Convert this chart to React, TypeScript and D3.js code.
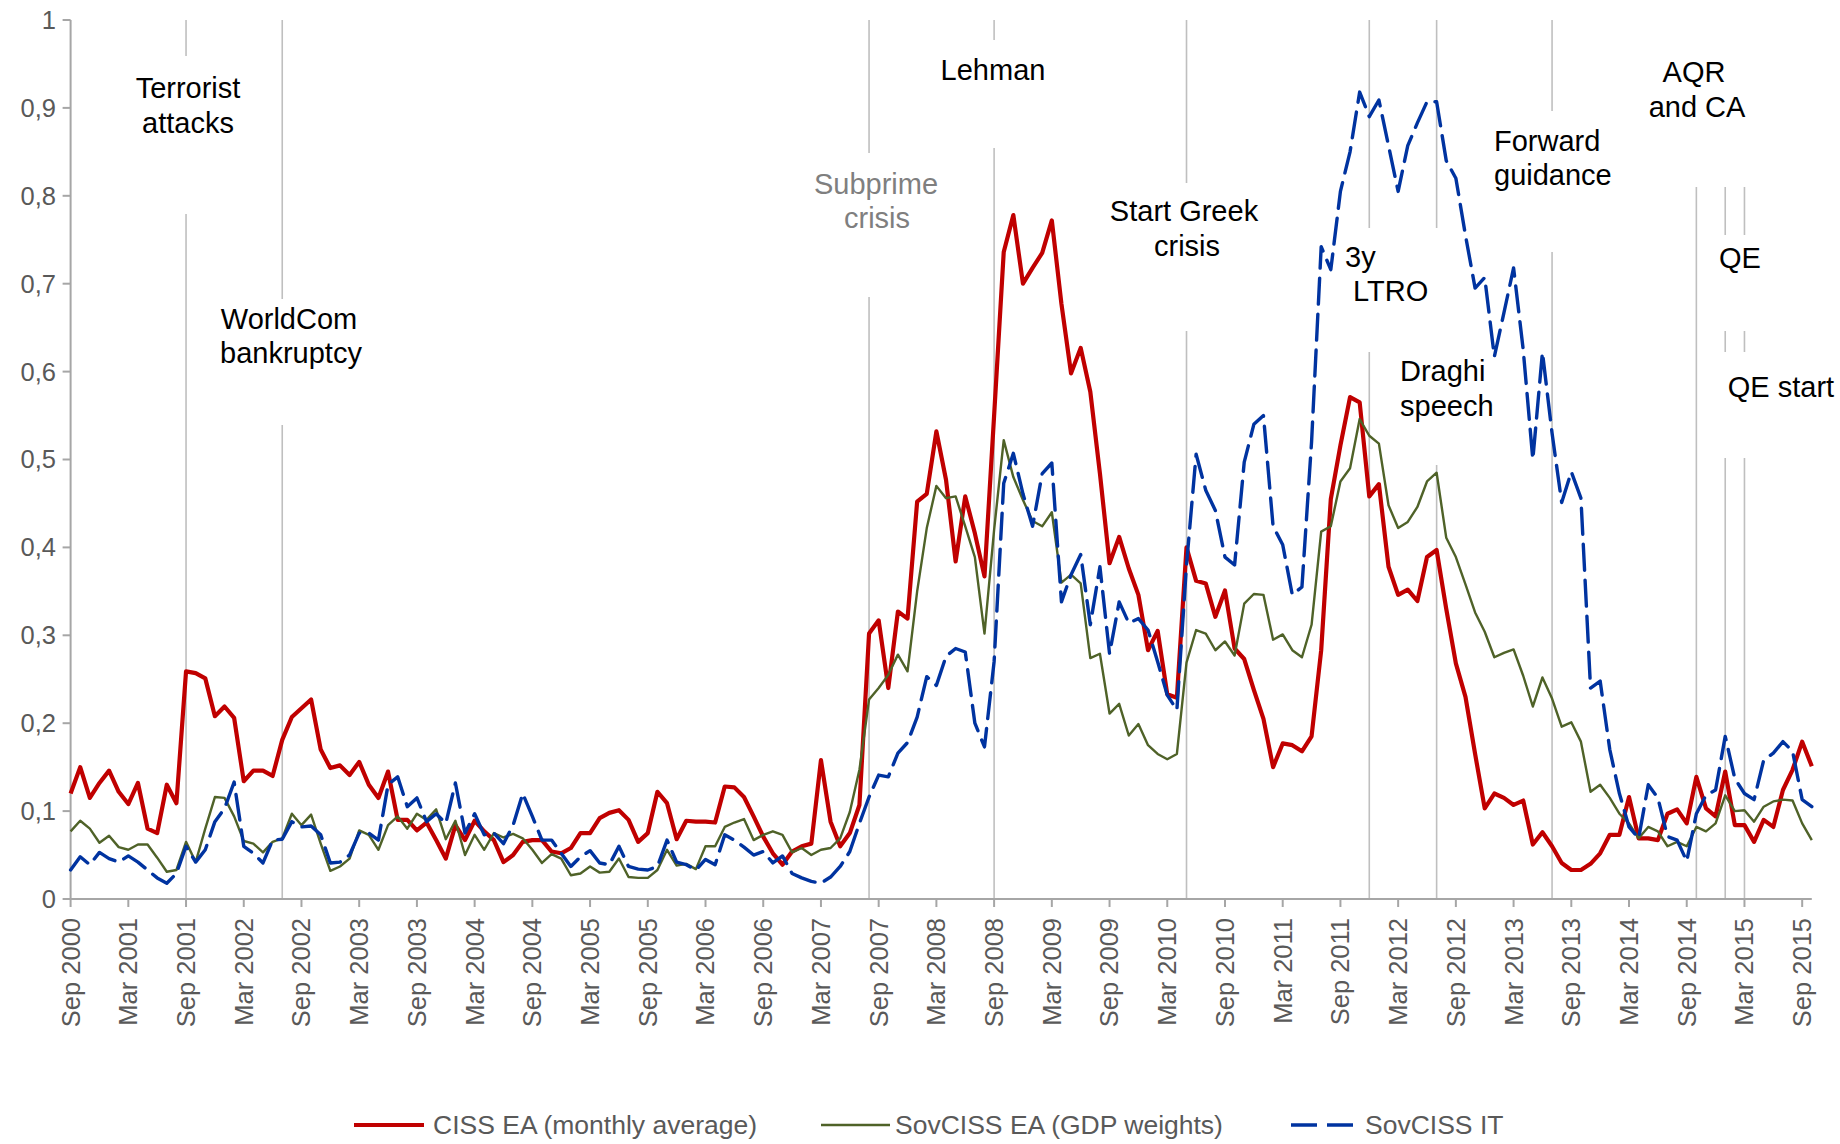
import { useEffect } from 'react';
import * as d3 from 'd3';

const tickLabels = [
  'Sep 2000', 'Mar 2001', 'Sep 2001', 'Mar 2002', 'Sep 2002', 'Mar 2003', 'Sep 2003', 'Mar 2004',
  'Sep 2004', 'Mar 2005', 'Sep 2005', 'Mar 2006', 'Sep 2006', 'Mar 2007', 'Sep 2007', 'Mar 2008',
  'Sep 2008', 'Mar 2009', 'Sep 2009', 'Mar 2010', 'Sep 2010', 'Mar 2011', 'Sep 2011', 'Mar 2012',
  'Sep 2012', 'Mar 2013', 'Sep 2013', 'Mar 2014', 'Sep 2014', 'Mar 2015', 'Sep 2015',
];

const yTicks = [0, 0.1, 0.2, 0.3, 0.4, 0.5, 0.6, 0.7, 0.8, 0.9, 1];
const yTickLabels = ['0', '0,1', '0,2', '0,3', '0,4', '0,5', '0,6', '0,7', '0,8', '0,9', '1'];

// monthly values, Sep 2000 .. Oct 2015
const cissEA = [
  0.120, 0.150, 0.115, 0.132, 0.146, 0.122, 0.108, 0.132, 0.080, 0.075, 0.130, 0.109,
  0.259, 0.257, 0.251, 0.208, 0.219, 0.206, 0.134, 0.146, 0.146, 0.140, 0.181, 0.207,
  0.217, 0.227, 0.170, 0.149, 0.152, 0.141, 0.156, 0.130, 0.115, 0.145, 0.090, 0.090,
  0.078, 0.087, 0.067, 0.046, 0.084, 0.067, 0.089, 0.077, 0.067, 0.042, 0.050, 0.065,
  0.067, 0.067, 0.054, 0.052, 0.058, 0.075, 0.075, 0.092, 0.098, 0.101, 0.090, 0.065,
  0.075, 0.122, 0.109, 0.068, 0.089, 0.088, 0.088, 0.087, 0.128, 0.127, 0.116, 0.094,
  0.071, 0.052, 0.039, 0.054, 0.060, 0.063, 0.158, 0.088, 0.060, 0.075, 0.107, 0.302,
  0.317, 0.240, 0.327, 0.319, 0.452, 0.461, 0.532, 0.477, 0.384, 0.458, 0.416, 0.367,
  0.550, 0.736, 0.778, 0.700, 0.718, 0.735, 0.772, 0.677, 0.598, 0.627, 0.577, 0.484,
  0.382, 0.412, 0.376, 0.346, 0.283, 0.305, 0.233, 0.229, 0.400, 0.362, 0.359, 0.321,
  0.351, 0.285, 0.273, 0.238, 0.205, 0.150, 0.177, 0.175, 0.168, 0.185, 0.283, 0.455,
  0.516, 0.571, 0.565, 0.458, 0.472, 0.378, 0.346, 0.352, 0.339, 0.389, 0.397, 0.330,
  0.268, 0.230, 0.165, 0.103, 0.120, 0.115, 0.107, 0.112, 0.062, 0.076, 0.060, 0.041,
  0.033, 0.033, 0.040, 0.052, 0.073, 0.073, 0.116, 0.069, 0.069, 0.067, 0.097, 0.102,
  0.086, 0.139, 0.103, 0.094, 0.145, 0.084, 0.084, 0.065, 0.090, 0.082, 0.124, 0.147,
  0.179, 0.151,
];

const sovCissEA = [
  0.077, 0.089, 0.080, 0.064, 0.072, 0.059, 0.056, 0.062, 0.062, 0.047, 0.031, 0.033,
  0.065, 0.042, 0.080, 0.116, 0.115, 0.094, 0.066, 0.063, 0.053, 0.065, 0.069, 0.097,
  0.084, 0.096, 0.063, 0.032, 0.037, 0.046, 0.078, 0.073, 0.056, 0.084, 0.094, 0.080,
  0.097, 0.090, 0.102, 0.068, 0.089, 0.050, 0.073, 0.056, 0.075, 0.070, 0.074, 0.069,
  0.056, 0.041, 0.051, 0.046, 0.027, 0.029, 0.037, 0.030, 0.031, 0.046, 0.025, 0.024,
  0.024, 0.033, 0.056, 0.038, 0.040, 0.034, 0.060, 0.060, 0.082, 0.087, 0.091, 0.067,
  0.073, 0.077, 0.073, 0.053, 0.058, 0.050, 0.056, 0.058, 0.069, 0.099, 0.147, 0.227,
  0.240, 0.255, 0.278, 0.259, 0.350, 0.422, 0.470, 0.456, 0.458, 0.424, 0.389, 0.302,
  0.420, 0.522, 0.480, 0.454, 0.430, 0.424, 0.440, 0.360, 0.369, 0.359, 0.274, 0.279,
  0.211, 0.222, 0.186, 0.199, 0.175, 0.165, 0.159, 0.165, 0.269, 0.306, 0.302, 0.283,
  0.293, 0.277, 0.336, 0.347, 0.346, 0.295, 0.301, 0.283, 0.275, 0.312, 0.418, 0.424,
  0.475, 0.490, 0.546, 0.527, 0.518, 0.448, 0.422, 0.429, 0.446, 0.475, 0.485, 0.411,
  0.389, 0.358, 0.326, 0.304, 0.275, 0.280, 0.284, 0.254, 0.219, 0.252, 0.228, 0.196,
  0.201, 0.179, 0.122, 0.130, 0.115, 0.097, 0.086, 0.069, 0.082, 0.077, 0.060, 0.065,
  0.060, 0.082, 0.077, 0.086, 0.118, 0.100, 0.101, 0.088, 0.105, 0.111, 0.113, 0.112,
  0.086, 0.067,
];

const sovCissIT = [
  0.033, 0.048, 0.039, 0.053, 0.046, 0.042, 0.049, 0.042, 0.033, 0.024, 0.018, 0.029,
  0.060, 0.042, 0.056, 0.088, 0.103, 0.133, 0.060, 0.052, 0.041, 0.067, 0.068, 0.088,
  0.082, 0.083, 0.073, 0.041, 0.042, 0.050, 0.075, 0.075, 0.067, 0.130, 0.139, 0.105,
  0.115, 0.088, 0.097, 0.086, 0.132, 0.075, 0.097, 0.073, 0.075, 0.063, 0.084, 0.120,
  0.094, 0.067, 0.067, 0.052, 0.037, 0.048, 0.055, 0.041, 0.039, 0.060, 0.037, 0.034,
  0.033, 0.037, 0.067, 0.042, 0.039, 0.033, 0.045, 0.039, 0.073, 0.067, 0.059, 0.050,
  0.054, 0.041, 0.049, 0.029, 0.024, 0.020, 0.018, 0.025, 0.037, 0.054, 0.086, 0.116,
  0.141, 0.139, 0.166, 0.178, 0.207, 0.253, 0.243, 0.276, 0.285, 0.281, 0.200, 0.173,
  0.270, 0.473, 0.507, 0.461, 0.424, 0.484, 0.496, 0.338, 0.369, 0.392, 0.312, 0.378,
  0.279, 0.338, 0.314, 0.319, 0.306, 0.270, 0.232, 0.215, 0.380, 0.506, 0.465, 0.442,
  0.389, 0.380, 0.497, 0.540, 0.550, 0.424, 0.403, 0.346, 0.355, 0.520, 0.742, 0.716,
  0.805, 0.850, 0.918, 0.890, 0.909, 0.857, 0.805, 0.857, 0.883, 0.907, 0.907, 0.840,
  0.820, 0.755, 0.695, 0.707, 0.617, 0.667, 0.718, 0.625, 0.500, 0.622, 0.530, 0.451,
  0.486, 0.456, 0.240, 0.248, 0.170, 0.120, 0.082, 0.069, 0.130, 0.115, 0.071, 0.067,
  0.043, 0.097, 0.118, 0.124, 0.185, 0.137, 0.120, 0.113, 0.158, 0.166, 0.179, 0.168,
  0.113, 0.105,
];

// event month (index from Sep 2000) for each annotation
const eventMonths = [12, 22, 83, 96, 116, 135, 142, 154, 169, 172, 174];
const eventTexts = [
  ['Terrorist', 'attacks'],
  ['WorldCom', 'bankruptcy'],
  ['Subprime', 'crisis'],
  ['Lehman'],
  ['Start Greek', 'crisis'],
  ['3y', 'LTRO'],
  ['Draghi', 'speech'],
  ['Forward', 'guidance'],
  ['AQR', 'and CA'],
  ['QE'],
  ['QE start'],
];

// layout of the label boxes (white boxes hide the event lines)
const noteLayout = [
  { anchor: 'middle', tx: [188, 188], ty: [88, 123], box: [125, 56, 252, 214] },
  { anchor: 'middle', tx: [289, 291], ty: [319, 353], box: [210, 299, 370, 425] },
  { anchor: 'middle', tx: [876, 877], ty: [184, 218], box: [805, 153, 950, 297] },
  { anchor: 'middle', tx: [993], ty: [70], box: [930, 40, 1060, 148] },
  { anchor: 'middle', tx: [1184, 1187], ty: [211, 246], box: [1100, 183, 1270, 331] },
  { anchor: 'start', tx: [1345, 1353], ty: [257, 291], box: [1338, 228, 1440, 352] },
  { anchor: 'start', tx: [1400, 1400], ty: [371, 406], box: [1392, 343, 1505, 465] },
  { anchor: 'start', tx: [1494, 1494], ty: [141, 175], box: [1488, 111, 1622, 252] },
  { anchor: 'middle', tx: [1694, 1697], ty: [72, 107], box: [1640, 18, 1760, 187] },
  { anchor: 'middle', tx: [1740], ty: [258], box: [1712, 235, 1770, 331] },
  { anchor: 'middle', tx: [1781], ty: [387], box: [1715, 352, 1840, 458] },
];

const seriesNames = ['CISS EA (monthly average)', 'SovCISS EA (GDP weights)', 'SovCISS IT'];
const seriesData = [cissEA, sovCissEA, sovCissIT];
const seriesColors = ['#C00000', '#4F6228', '#0033A0'];
const seriesWidths = [4.2, 2.4, 3.4];
const seriesDash = [null, null, '26,10'];

const FONT = "'Liberation Sans', Arial, Helvetica, sans-serif";

export default function App() {
  useEffect(() => {
    document.body.style.margin = '0';
    document.body.style.overflow = 'hidden';
  }, []);

  const W = 1840;
  const H = 1144;
  const x = d3.scaleLinear().domain([0, 181]).range([70.6, 1811.8]);
  const y = d3.scaleLinear().domain([0, 1]).range([899, 20]);

  const line = d3
    .line<number>()
    .x((_, i) => x(i))
    .y((d) => y(d));

  const tickMonths = d3.range(0, 181, 6);
  const axisColor = '#A6A6A6';
  const labelColor = '#595959';
  const legendY = 1125;

  const legendX = [
    { l0: 354, l1: 424, tx: 433 },
    { l0: 821, l1: 890, tx: 895 },
    { l0: 1291, l1: 1360, tx: 1365 },
  ];

  return (
    <svg width={W} height={H} style={{ display: 'block', background: '#fff' }} fontFamily={FONT}>
      <rect width={W} height={H} fill="#fff" />

      {/* event lines */}
      {eventMonths.map((m, k) => (
        <line key={`ev${k}`} x1={x(m)} x2={x(m)} y1={y(1)} y2={y(0)} stroke="#BFBFBF" strokeWidth={1.6} />
      ))}
      {noteLayout.map((n, k) => (
        <rect key={`bx${k}`} x={n.box[0]} y={n.box[1]} width={n.box[2] - n.box[0]} height={n.box[3] - n.box[1]} fill="#fff" />
      ))}
      {noteLayout.map((n, k) =>
        eventTexts[k].map((t, j) => (
          <text
            key={`tx${k}-${j}`}
            x={n.tx[j]}
            y={n.ty[j]}
            dy="0.35em"
            textAnchor={n.anchor}
            fontSize={29}
            fill={k === 2 ? '#7F7F7F' : '#000'}
          >
            {t}
          </text>
        ))
      )}

      {/* y axis */}
      <line x1={x(0)} x2={x(0)} y1={y(1)} y2={y(0)} stroke={axisColor} strokeWidth={2} />
      {yTicks.map((v, k) => (
        <g key={`yt${k}`}>
          <line x1={x(0) - 8} x2={x(0)} y1={y(v)} y2={y(v)} stroke={axisColor} strokeWidth={2} />
          <text x={56} y={y(v)} dy="0.35em" textAnchor="end" fontSize={25.5} fill={labelColor}>
            {yTickLabels[k]}
          </text>
        </g>
      ))}

      {/* x axis */}
      <line x1={x(0)} x2={x(181)} y1={y(0)} y2={y(0)} stroke={axisColor} strokeWidth={2} />
      {tickMonths.map((m, k) => (
        <g key={`xt${k}`}>
          <line x1={x(m)} x2={x(m)} y1={y(0)} y2={y(0) + 8} stroke={axisColor} strokeWidth={2} />
          <text
            transform={`translate(${x(m)},918) rotate(-90)`}
            dy="0.35em"
            textAnchor="end"
            fontSize={25.5}
            fill={labelColor}
          >
            {tickLabels[k]}
          </text>
        </g>
      ))}

      {/* series */}
      {seriesData.map((d, k) => (
        <path
          key={`s${k}`}
          d={line(d) ?? ''}
          fill="none"
          stroke={seriesColors[k]}
          strokeWidth={seriesWidths[k]}
          strokeDasharray={seriesDash[k] ?? undefined}
          strokeLinejoin="round"
          strokeLinecap={seriesDash[k] ? 'round' : 'butt'}
        />
      ))}

      {/* legend */}
      {seriesNames.map((name, k) => (
        <g key={`lg${k}`}>
          <line
            x1={legendX[k].l0}
            x2={legendX[k].l1}
            y1={legendY}
            y2={legendY}
            stroke={seriesColors[k]}
            strokeWidth={seriesWidths[k]}
            strokeDasharray={seriesDash[k] ?? undefined}
          />
          <text x={legendX[k].tx} y={legendY} dy="0.35em" fontSize={26.5} fill={labelColor}>
            {name}
          </text>
        </g>
      ))}
    </svg>
  );
}
